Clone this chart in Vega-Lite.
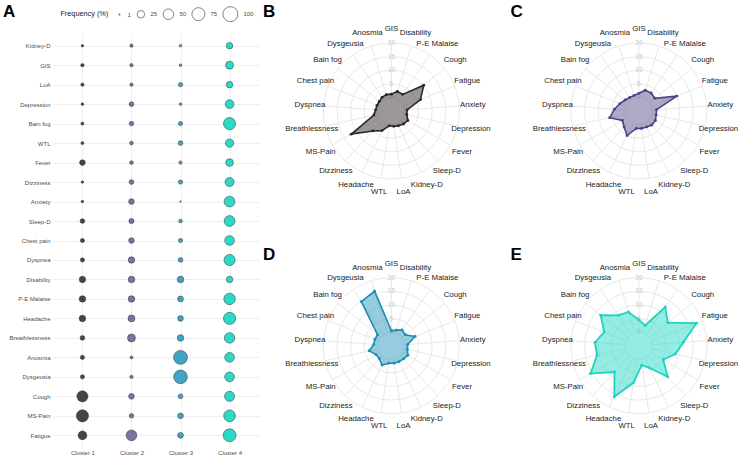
{
"$schema":"https://vega.github.io/schema/vega-lite/v6.json",
"background":"white",
"padding":{"left":2,"top":2,"right":0,"bottom":0},
"config":{"font":"Liberation Sans","view":{"stroke":null}},
"datasets":{
"freq":[
{"cluster":"Cluster 1","symptom":"Kidney-D","freq":3},{"cluster":"Cluster 2","symptom":"Kidney-D","freq":5},{"cluster":"Cluster 3","symptom":"Kidney-D","freq":3},{"cluster":"Cluster 4","symptom":"Kidney-D","freq":19},
{"cluster":"Cluster 1","symptom":"GIS","freq":5},{"cluster":"Cluster 2","symptom":"GIS","freq":5},{"cluster":"Cluster 3","symptom":"GIS","freq":3},{"cluster":"Cluster 4","symptom":"GIS","freq":28},
{"cluster":"Cluster 1","symptom":"LoA","freq":5},{"cluster":"Cluster 2","symptom":"LoA","freq":5},{"cluster":"Cluster 3","symptom":"LoA","freq":8},{"cluster":"Cluster 4","symptom":"LoA","freq":19},
{"cluster":"Cluster 1","symptom":"Depression","freq":3},{"cluster":"Cluster 2","symptom":"Depression","freq":10},{"cluster":"Cluster 3","symptom":"Depression","freq":3},{"cluster":"Cluster 4","symptom":"Depression","freq":34},
{"cluster":"Cluster 1","symptom":"Bain fog","freq":4},{"cluster":"Cluster 2","symptom":"Bain fog","freq":9},{"cluster":"Cluster 3","symptom":"Bain fog","freq":8},{"cluster":"Cluster 4","symptom":"Bain fog","freq":66},
{"cluster":"Cluster 1","symptom":"WTL","freq":4},{"cluster":"Cluster 2","symptom":"WTL","freq":6},{"cluster":"Cluster 3","symptom":"WTL","freq":10},{"cluster":"Cluster 4","symptom":"WTL","freq":31},
{"cluster":"Cluster 1","symptom":"Fever","freq":14},{"cluster":"Cluster 2","symptom":"Fever","freq":6},{"cluster":"Cluster 3","symptom":"Fever","freq":5},{"cluster":"Cluster 4","symptom":"Fever","freq":26},
{"cluster":"Cluster 1","symptom":"Dizziness","freq":3},{"cluster":"Cluster 2","symptom":"Dizziness","freq":10},{"cluster":"Cluster 3","symptom":"Dizziness","freq":8},{"cluster":"Cluster 4","symptom":"Dizziness","freq":36},
{"cluster":"Cluster 1","symptom":"Anxiety","freq":3},{"cluster":"Cluster 2","symptom":"Anxiety","freq":14},{"cluster":"Cluster 3","symptom":"Anxiety","freq":1},{"cluster":"Cluster 4","symptom":"Anxiety","freq":52},
{"cluster":"Cluster 1","symptom":"Sleep-D","freq":10},{"cluster":"Cluster 2","symptom":"Sleep-D","freq":12},{"cluster":"Cluster 3","symptom":"Sleep-D","freq":6},{"cluster":"Cluster 4","symptom":"Sleep-D","freq":52},
{"cluster":"Cluster 1","symptom":"Chest pain","freq":8},{"cluster":"Cluster 2","symptom":"Chest pain","freq":14},{"cluster":"Cluster 3","symptom":"Chest pain","freq":8},{"cluster":"Cluster 4","symptom":"Chest pain","freq":42},
{"cluster":"Cluster 1","symptom":"Dyspnea","freq":8},{"cluster":"Cluster 2","symptom":"Dyspnea","freq":19},{"cluster":"Cluster 3","symptom":"Dyspnea","freq":10},{"cluster":"Cluster 4","symptom":"Dyspnea","freq":55},
{"cluster":"Cluster 1","symptom":"Disability","freq":18},{"cluster":"Cluster 2","symptom":"Disability","freq":19},{"cluster":"Cluster 3","symptom":"Disability","freq":19},{"cluster":"Cluster 4","symptom":"Disability","freq":18},
{"cluster":"Cluster 1","symptom":"P-E Malaise","freq":19},{"cluster":"Cluster 2","symptom":"P-E Malaise","freq":19},{"cluster":"Cluster 3","symptom":"P-E Malaise","freq":15},{"cluster":"Cluster 4","symptom":"P-E Malaise","freq":59},
{"cluster":"Cluster 1","symptom":"Headache","freq":19},{"cluster":"Cluster 2","symptom":"Headache","freq":21},{"cluster":"Cluster 3","symptom":"Headache","freq":14},{"cluster":"Cluster 4","symptom":"Headache","freq":66},
{"cluster":"Cluster 1","symptom":"Breathlessness","freq":10},{"cluster":"Cluster 2","symptom":"Breathlessness","freq":28},{"cluster":"Cluster 3","symptom":"Breathlessness","freq":19},{"cluster":"Cluster 4","symptom":"Breathlessness","freq":49},
{"cluster":"Cluster 1","symptom":"Anosmia","freq":8},{"cluster":"Cluster 2","symptom":"Anosmia","freq":4},{"cluster":"Cluster 3","symptom":"Anosmia","freq":86},{"cluster":"Cluster 4","symptom":"Anosmia","freq":42},
{"cluster":"Cluster 1","symptom":"Dysgeusia","freq":8},{"cluster":"Cluster 2","symptom":"Dysgeusia","freq":5},{"cluster":"Cluster 3","symptom":"Dysgeusia","freq":83},{"cluster":"Cluster 4","symptom":"Dysgeusia","freq":42},
{"cluster":"Cluster 1","symptom":"Cough","freq":55},{"cluster":"Cluster 2","symptom":"Cough","freq":14},{"cluster":"Cluster 3","symptom":"Cough","freq":10},{"cluster":"Cluster 4","symptom":"Cough","freq":45},
{"cluster":"Cluster 1","symptom":"MS-Pain","freq":66},{"cluster":"Cluster 2","symptom":"MS-Pain","freq":9},{"cluster":"Cluster 3","symptom":"MS-Pain","freq":14},{"cluster":"Cluster 4","symptom":"MS-Pain","freq":62},
{"cluster":"Cluster 1","symptom":"Fatigue","freq":34},{"cluster":"Cluster 2","symptom":"Fatigue","freq":52},{"cluster":"Cluster 3","symptom":"Fatigue","freq":15},{"cluster":"Cluster 4","symptom":"Fatigue","freq":74}
],
"radar":[
{"panel":"B","symptom":"GIS","value":1.2},{"panel":"B","symptom":"Disability","value":2.5},{"panel":"B","symptom":"P-E Malaise","value":2.4},{"panel":"B","symptom":"Cough","value":10.2},{"panel":"B","symptom":"Fatigue","value":6.5},{"panel":"B","symptom":"Anxiety","value":0.8},{"panel":"B","symptom":"Depression","value":0.8},{"panel":"B","symptom":"Fever","value":2},{"panel":"B","symptom":"Sleep-D","value":1.5},{"panel":"B","symptom":"Kidney-D","value":1},{"panel":"B","symptom":"LoA","value":0.7},{"panel":"B","symptom":"WTL","value":0.5},{"panel":"B","symptom":"Headache","value":3},{"panel":"B","symptom":"Dizziness","value":5},{"panel":"B","symptom":"MS-Pain","value":12},{"panel":"B","symptom":"Breathlessness","value":1.6},{"panel":"B","symptom":"Dyspnea","value":0.8},{"panel":"B","symptom":"Chest pain","value":0.7},{"panel":"B","symptom":"Bain fog","value":0.7},{"panel":"B","symptom":"Dysgeusia","value":1.1},{"panel":"B","symptom":"Anosmia","value":1.3},
{"panel":"C","symptom":"GIS","value":1.5},{"panel":"C","symptom":"Disability","value":3},{"panel":"C","symptom":"P-E Malaise","value":3},{"panel":"C","symptom":"Cough","value":2.5},{"panel":"C","symptom":"Fatigue","value":10},{"panel":"C","symptom":"Anxiety","value":1.5},{"panel":"C","symptom":"Depression","value":1.5},{"panel":"C","symptom":"Fever","value":2},{"panel":"C","symptom":"Sleep-D","value":2},{"panel":"C","symptom":"Kidney-D","value":1.5},{"panel":"C","symptom":"LoA","value":1.5},{"panel":"C","symptom":"WTL","value":1.5},{"panel":"C","symptom":"Headache","value":5},{"panel":"C","symptom":"Dizziness","value":3},{"panel":"C","symptom":"MS-Pain","value":2},{"panel":"C","symptom":"Breathlessness","value":6},{"panel":"C","symptom":"Dyspnea","value":4},{"panel":"C","symptom":"Chest pain","value":2.5},{"panel":"C","symptom":"Bain fog","value":1.5},{"panel":"C","symptom":"Dysgeusia","value":1},{"panel":"C","symptom":"Anosmia","value":1},
{"panel":"D","symptom":"GIS","value":0.5},{"panel":"D","symptom":"Disability","value":1},{"panel":"D","symptom":"P-E Malaise","value":2},{"panel":"D","symptom":"Cough","value":1.5},{"panel":"D","symptom":"Fatigue","value":4.3},{"panel":"D","symptom":"Anxiety","value":1},{"panel":"D","symptom":"Depression","value":1},{"panel":"D","symptom":"Fever","value":2},{"panel":"D","symptom":"Sleep-D","value":1.6},{"panel":"D","symptom":"Kidney-D","value":1.5},{"panel":"D","symptom":"LoA","value":1.5},{"panel":"D","symptom":"WTL","value":1.5},{"panel":"D","symptom":"Headache","value":2.9},{"panel":"D","symptom":"Dizziness","value":1.5},{"panel":"D","symptom":"MS-Pain","value":1.5},{"panel":"D","symptom":"Breathlessness","value":3.4},{"panel":"D","symptom":"Dyspnea","value":1.5},{"panel":"D","symptom":"Chest pain","value":1.5},{"panel":"D","symptom":"Bain fog","value":1.5},{"panel":"D","symptom":"Dysgeusia","value":14.6},{"panel":"D","symptom":"Anosmia","value":16},
{"panel":"E","symptom":"GIS","value":4.5},{"panel":"E","symptom":"Disability","value":2.8},{"panel":"E","symptom":"P-E Malaise","value":12.2},{"panel":"E","symptom":"Cough","value":8.6},{"panel":"E","symptom":"Fatigue","value":17.7},{"panel":"E","symptom":"Anxiety","value":11.4},{"panel":"E","symptom":"Depression","value":8.7},{"panel":"E","symptom":"Fever","value":5.3},{"panel":"E","symptom":"Sleep-D","value":10.6},{"panel":"E","symptom":"Kidney-D","value":4.1},{"panel":"E","symptom":"LoA","value":2.2},{"panel":"E","symptom":"WTL","value":8.8},{"panel":"E","symptom":"Headache","value":15.8},{"panel":"E","symptom":"Dizziness","value":8.2},{"panel":"E","symptom":"MS-Pain","value":15.5},{"panel":"E","symptom":"Breathlessness","value":10.8},{"panel":"E","symptom":"Dyspnea","value":11.2},{"panel":"E","symptom":"Chest pain","value":8.7},{"panel":"E","symptom":"Bain fog","value":13},{"panel":"E","symptom":"Dysgeusia","value":8.5},{"panel":"E","symptom":"Anosmia","value":8}
],
"rings":[{"ring":0},{"ring":5},{"ring":10},{"ring":15},{"ring":20}]
},
"resolve":{"scale":{"size":"independent"}},
"spacing":3.4,
"hconcat":[
{
"width":206,"height":413,
"data":{"name":"freq"},
"mark":{"type":"point","filled":true,"shape":"circle","stroke":"#333333","strokeWidth":0.5,"opacity":1},
"encoding":{
"x":{"field":"cluster","type":"nominal","scale":{"type":"point","padding":0.6},"axis":{"title":null,"labelFontSize":6,"labelColor":"#4d4d4d","labelAngle":0,"ticks":false,"domain":false,"grid":true,"gridColor":"#ebebeb","gridWidth":0.8,"labelPadding":2}},
"y":{"field":"symptom","type":"nominal","sort":["Kidney-D","GIS","LoA","Depression","Bain fog","WTL","Fever","Dizziness","Anxiety","Sleep-D","Chest pain","Dyspnea","Disability","P-E Malaise","Headache","Breathlessness","Anosmia","Dysgeusia","Cough","MS-Pain","Fatigue"],"scale":{"type":"point","padding":0.6},"axis":{"title":"A","titleAngle":0,"titleX":-50.6,"titleY":-30.7,"titleAlign":"left","titleBaseline":"top","titleFontSize":17,"titleFontWeight":"bold","titleColor":"#000000","labelFontSize":6,"labelColor":"#4d4d4d","ticks":false,"domain":false,"grid":true,"gridColor":"#ebebeb","gridWidth":0.8,"labelPadding":3}},
"size":{"field":"freq","type":"quantitative","scale":{"type":"linear","domain":[0,100],"range":[0,225]},"legend":{"title":"Frequency (%)","orient":"none","legendX":7.4,"legendY":-28,"direction":"horizontal","titleOrient":"left","titleFontSize":7.3,"titleFontWeight":"normal","titleColor":"#222222","titlePadding":8,"labelFontSize":6,"labelColor":"#4d4d4d","labelOffset":5,"columnPadding":4,"values":[1,25,50,75,100],"symbolStrokeColor":"#333333","symbolFillColor":"white","symbolStrokeWidth":0.6,"symbolType":"circle"}},
"color":{"field":"cluster","type":"nominal","scale":{"domain":["Cluster 1","Cluster 2","Cluster 3","Cluster 4"],"range":["#4B4244","#7A72A1","#42A3C2","#2BD9C7"]},"legend":null}
}
},
{
"data":{"name":"radar"},
"transform":[
{"calculate":"indexof(['GIS','Disability','P-E Malaise','Cough','Fatigue','Anxiety','Depression','Fever','Sleep-D','Kidney-D','LoA','WTL','Headache','Dizziness','MS-Pain','Breathlessness','Dyspnea','Chest pain','Bain fog','Dysgeusia','Anosmia'], datum.symptom)","as":"idx"},
{"calculate":"datum.idx*2*PI/21","as":"th"},
{"calculate":"sin(datum.th)*(datum.value+5)","as":"px"},
{"calculate":"cos(datum.th)*(datum.value+5)","as":"py"},
{"calculate":"sin(datum.th)*5","as":"s0x"},
{"calculate":"cos(datum.th)*5","as":"s0y"},
{"calculate":"sin(datum.th)*25","as":"s1x"},
{"calculate":"cos(datum.th)*25","as":"s1y"},
{"calculate":"sin(datum.th)*30","as":"lx"},
{"calculate":"cos(datum.th)*30","as":"ly"}
],
"spacing":46.7,
"vconcat":[
{"spacing":16.5,"hconcat":[
{"width":210,"height":165,
"title":{"text":"B","anchor":"start","frame":"group","fontSize":17,"fontWeight":"bold","color":"#000000","dx":-20.5,"offset":-8.5,"baseline":"alphabetic"},
"layer":[
{"data":{"name":"rings"},"transform":[{"calculate":"datum.ring+5","as":"rr"}],"mark":{"type":"point","shape":"circle","filled":false,"stroke":"#dedede","strokeWidth":0.7,"opacity":1},"encoding":{"x":{"datum":0,"type":"quantitative","scale":{"domain":[-39.7,37.5],"nice":false,"zero":false},"axis":null},"y":{"datum":0,"type":"quantitative","scale":{"domain":[-32.35,28.31],"nice":false,"zero":false},"axis":null},"size":{"field":"rr","type":"quantitative","scale":{"type":"pow","exponent":2,"domain":[0,25],"range":[0,18496]},"legend":null}}},
{"transform":[{"filter":"datum.panel==='B'"}],"mark":{"type":"rule","stroke":"#dedede","strokeWidth":0.7},"encoding":{"x":{"field":"s0x","type":"quantitative"},"y":{"field":"s0y","type":"quantitative"},"x2":{"field":"s1x"},"y2":{"field":"s1y"}}},
{"data":{"name":"rings"},"transform":[{"calculate":"datum.ring+5","as":"rr"}],"mark":{"type":"text","fontSize":6.5,"color":"#c8c8c8","align":"center","baseline":"middle"},"encoding":{"x":{"datum":0,"type":"quantitative"},"y":{"field":"rr","type":"quantitative"},"text":{"field":"ring"}}},
{"transform":[{"filter":"datum.panel==='B'"}],"mark":{"type":"line","interpolate":"linear-closed","fill":"#4B4244","fillOpacity":0.55,"stroke":"#2E2527","strokeWidth":1.6},"encoding":{"x":{"field":"px","type":"quantitative"},"y":{"field":"py","type":"quantitative"},"order":{"field":"idx","type":"quantitative"}}},
{"transform":[{"filter":"datum.panel==='B'"}],"mark":{"type":"point","filled":true,"size":8,"color":"#2E2527","opacity":1},"encoding":{"x":{"field":"px","type":"quantitative"},"y":{"field":"py","type":"quantitative"}}},
{"transform":[{"filter":"datum.panel==='B'"}],"mark":{"type":"text","fontSize":7.8,"color":"#222222","align":"center","baseline":"middle"},"encoding":{"x":{"field":"lx","type":"quantitative"},"y":{"field":"ly","type":"quantitative"},"text":{"field":"symptom"}}}
]},
{"width":210,"height":165,
"title":{"text":"C","anchor":"start","frame":"group","fontSize":17,"fontWeight":"bold","color":"#000000","dx":-20.5,"offset":-8.5,"baseline":"alphabetic"},
"layer":[
{"data":{"name":"rings"},"transform":[{"calculate":"datum.ring+5","as":"rr"}],"mark":{"type":"point","shape":"circle","filled":false,"stroke":"#dedede","strokeWidth":0.7,"opacity":1},"encoding":{"x":{"datum":0,"type":"quantitative","scale":{"domain":[-39.7,37.5],"nice":false,"zero":false},"axis":null},"y":{"datum":0,"type":"quantitative","scale":{"domain":[-32.35,28.31],"nice":false,"zero":false},"axis":null},"size":{"field":"rr","type":"quantitative","scale":{"type":"pow","exponent":2,"domain":[0,25],"range":[0,18496]},"legend":null}}},
{"transform":[{"filter":"datum.panel==='C'"}],"mark":{"type":"rule","stroke":"#dedede","strokeWidth":0.7},"encoding":{"x":{"field":"s0x","type":"quantitative"},"y":{"field":"s0y","type":"quantitative"},"x2":{"field":"s1x"},"y2":{"field":"s1y"}}},
{"data":{"name":"rings"},"transform":[{"calculate":"datum.ring+5","as":"rr"}],"mark":{"type":"text","fontSize":6.5,"color":"#c8c8c8","align":"center","baseline":"middle"},"encoding":{"x":{"datum":0,"type":"quantitative"},"y":{"field":"rr","type":"quantitative"},"text":{"field":"ring"}}},
{"transform":[{"filter":"datum.panel==='C'"}],"mark":{"type":"line","interpolate":"linear-closed","fill":"#7A72A1","fillOpacity":0.6,"stroke":"#4A4488","strokeWidth":1.6},"encoding":{"x":{"field":"px","type":"quantitative"},"y":{"field":"py","type":"quantitative"},"order":{"field":"idx","type":"quantitative"}}},
{"transform":[{"filter":"datum.panel==='C'"}],"mark":{"type":"point","filled":true,"size":8,"color":"#4A4488","opacity":1},"encoding":{"x":{"field":"px","type":"quantitative"},"y":{"field":"py","type":"quantitative"}}},
{"transform":[{"filter":"datum.panel==='C'"}],"mark":{"type":"text","fontSize":7.8,"color":"#222222","align":"center","baseline":"middle"},"encoding":{"x":{"field":"lx","type":"quantitative"},"y":{"field":"ly","type":"quantitative"},"text":{"field":"symptom"}}}
]}
]},
{"spacing":16.5,"hconcat":[
{"width":210,"height":165,
"title":{"text":"D","anchor":"start","frame":"group","fontSize":17,"fontWeight":"bold","color":"#000000","dx":-20.5,"offset":-17.2,"baseline":"alphabetic"},
"layer":[
{"data":{"name":"rings"},"transform":[{"calculate":"datum.ring+5","as":"rr"}],"mark":{"type":"point","shape":"circle","filled":false,"stroke":"#dedede","strokeWidth":0.7,"opacity":1},"encoding":{"x":{"datum":0,"type":"quantitative","scale":{"domain":[-39.7,37.5],"nice":false,"zero":false},"axis":null},"y":{"datum":0,"type":"quantitative","scale":{"domain":[-32.35,28.31],"nice":false,"zero":false},"axis":null},"size":{"field":"rr","type":"quantitative","scale":{"type":"pow","exponent":2,"domain":[0,25],"range":[0,18496]},"legend":null}}},
{"transform":[{"filter":"datum.panel==='D'"}],"mark":{"type":"rule","stroke":"#dedede","strokeWidth":0.7},"encoding":{"x":{"field":"s0x","type":"quantitative"},"y":{"field":"s0y","type":"quantitative"},"x2":{"field":"s1x"},"y2":{"field":"s1y"}}},
{"data":{"name":"rings"},"transform":[{"calculate":"datum.ring+5","as":"rr"}],"mark":{"type":"text","fontSize":6.5,"color":"#c8c8c8","align":"center","baseline":"middle"},"encoding":{"x":{"datum":0,"type":"quantitative"},"y":{"field":"rr","type":"quantitative"},"text":{"field":"ring"}}},
{"transform":[{"filter":"datum.panel==='D'"}],"mark":{"type":"line","interpolate":"linear-closed","fill":"#42A3C2","fillOpacity":0.55,"stroke":"#1A8DB3","strokeWidth":1.6},"encoding":{"x":{"field":"px","type":"quantitative"},"y":{"field":"py","type":"quantitative"},"order":{"field":"idx","type":"quantitative"}}},
{"transform":[{"filter":"datum.panel==='D'"}],"mark":{"type":"point","filled":true,"size":8,"color":"#1A8DB3","opacity":1},"encoding":{"x":{"field":"px","type":"quantitative"},"y":{"field":"py","type":"quantitative"}}},
{"transform":[{"filter":"datum.panel==='D'"}],"mark":{"type":"text","fontSize":7.8,"color":"#222222","align":"center","baseline":"middle"},"encoding":{"x":{"field":"lx","type":"quantitative"},"y":{"field":"ly","type":"quantitative"},"text":{"field":"symptom"}}}
]},
{"width":210,"height":165,
"title":{"text":"E","anchor":"start","frame":"group","fontSize":17,"fontWeight":"bold","color":"#000000","dx":-20.5,"offset":-17.2,"baseline":"alphabetic"},
"layer":[
{"data":{"name":"rings"},"transform":[{"calculate":"datum.ring+5","as":"rr"}],"mark":{"type":"point","shape":"circle","filled":false,"stroke":"#dedede","strokeWidth":0.7,"opacity":1},"encoding":{"x":{"datum":0,"type":"quantitative","scale":{"domain":[-39.7,37.5],"nice":false,"zero":false},"axis":null},"y":{"datum":0,"type":"quantitative","scale":{"domain":[-32.35,28.31],"nice":false,"zero":false},"axis":null},"size":{"field":"rr","type":"quantitative","scale":{"type":"pow","exponent":2,"domain":[0,25],"range":[0,18496]},"legend":null}}},
{"transform":[{"filter":"datum.panel==='E'"}],"mark":{"type":"rule","stroke":"#dedede","strokeWidth":0.7},"encoding":{"x":{"field":"s0x","type":"quantitative"},"y":{"field":"s0y","type":"quantitative"},"x2":{"field":"s1x"},"y2":{"field":"s1y"}}},
{"data":{"name":"rings"},"transform":[{"calculate":"datum.ring+5","as":"rr"}],"mark":{"type":"text","fontSize":6.5,"color":"#c8c8c8","align":"center","baseline":"middle"},"encoding":{"x":{"datum":0,"type":"quantitative"},"y":{"field":"rr","type":"quantitative"},"text":{"field":"ring"}}},
{"transform":[{"filter":"datum.panel==='E'"}],"mark":{"type":"line","interpolate":"linear-closed","fill":"#2BD9C7","fillOpacity":0.5,"stroke":"#1ED3BF","strokeWidth":1.8},"encoding":{"x":{"field":"px","type":"quantitative"},"y":{"field":"py","type":"quantitative"},"order":{"field":"idx","type":"quantitative"}}},
{"transform":[{"filter":"datum.panel==='E'"}],"mark":{"type":"point","filled":true,"size":8,"color":"#1ED3BF","opacity":1},"encoding":{"x":{"field":"px","type":"quantitative"},"y":{"field":"py","type":"quantitative"}}},
{"transform":[{"filter":"datum.panel==='E'"}],"mark":{"type":"text","fontSize":7.8,"color":"#222222","align":"center","baseline":"middle"},"encoding":{"x":{"field":"lx","type":"quantitative"},"y":{"field":"ly","type":"quantitative"},"text":{"field":"symptom"}}}
]}
]}
]
}
]
}
